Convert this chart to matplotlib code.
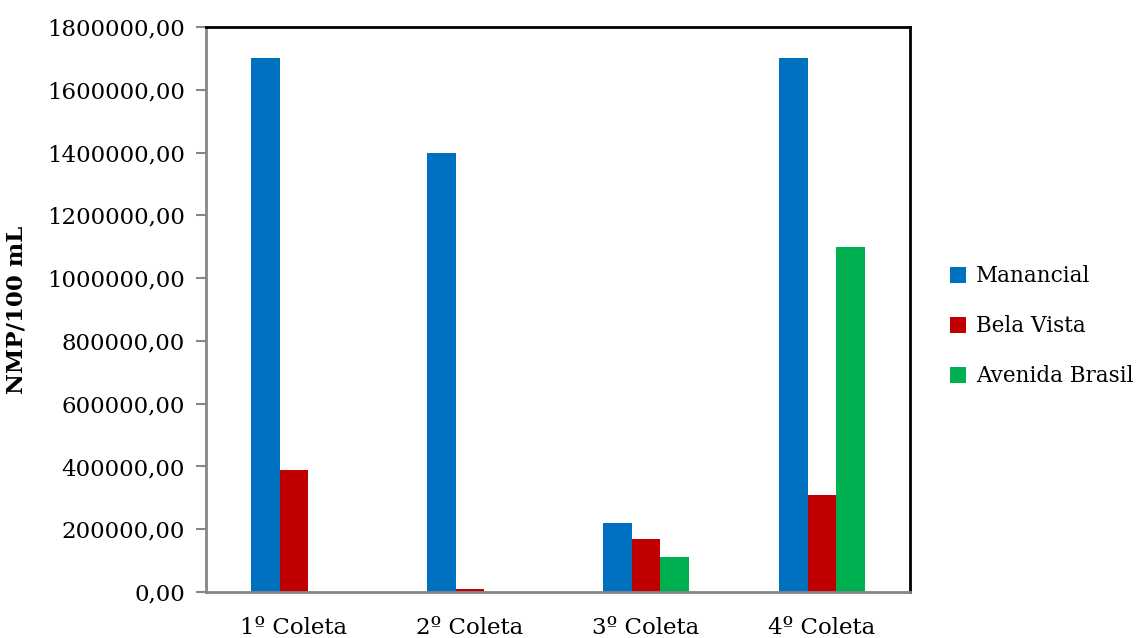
import matplotlib
matplotlib.use("Agg")
import matplotlib.pyplot as plt
import numpy as np
from matplotlib.ticker import FuncFormatter, MultipleLocator

categories = ["1º Coleta", "2º Coleta", "3º Coleta", "4º Coleta"]
series_names = ["Manancial", "Bela Vista", "Avenida Brasil"]
manancial = [1700000, 1400000, 220000, 1700000]
bela_vista = [390000, 11000, 170000, 310000]
avenida_brasil = [0, 0, 110000, 1100000]
colors = ["#0070C0", "#C00000", "#00B050"]

plt.rcParams["font.family"] = ["DejaVu Serif"]

fig = plt.figure(figsize=(11.41, 6.38), dpi=100)
ax = fig.add_axes([0.1805, 0.0721, 0.617, 0.8856])

x = np.arange(len(categories))
width = 0.163
for i, (vals, name, c) in enumerate(zip([manancial, bela_vista, avenida_brasil], series_names, colors)):
    ax.bar(x + (i - 1) * width, vals, width, color=c, label=name, edgecolor="none")

ax.set_xlim(-0.5, len(categories) - 0.5)
ax.set_ylim(0, 1800000)
ax.yaxis.set_major_locator(MultipleLocator(200000))
ax.yaxis.set_major_formatter(FuncFormatter(lambda v, p: f"{v:.2f}".replace(".", ",")))
ax.set_xticks(x)
ax.set_xticklabels(categories)

ax.tick_params(axis="y", direction="out", length=7, width=1.5, color="#868686", labelsize=16.5, pad=8)
ax.tick_params(axis="x", length=0, labelsize=16.5, pad=18)

for side in ["left", "bottom"]:
    ax.spines[side].set_color("#868686")
    ax.spines[side].set_linewidth(2)
for side in ["top", "right"]:
    ax.spines[side].set_color("black")
    ax.spines[side].set_linewidth(2)

ax.set_ylabel("NMP/100 mL", fontsize=16.5, fontweight="bold", labelpad=14)

leg = ax.legend(loc="center left", bbox_to_anchor=(1.045, 0.47), frameon=False,
                fontsize=15.5, handlelength=0.75, handleheight=0.75, labelspacing=1.3,
                handletextpad=0.45, borderaxespad=0)

fig.savefig("out.png", dpi=100)
